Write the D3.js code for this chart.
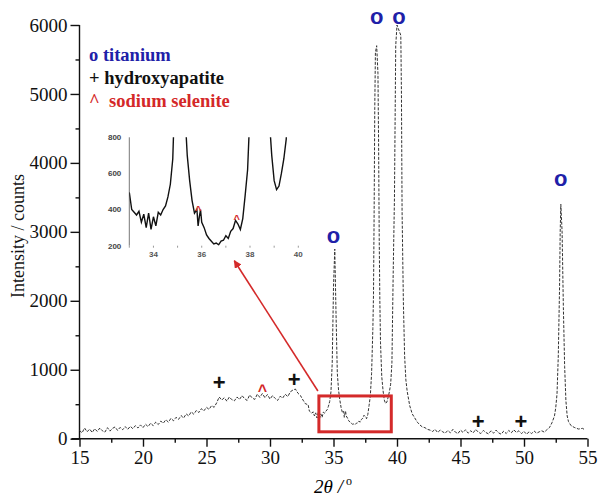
<!DOCTYPE html>
<html>
<head>
<meta charset="utf-8">
<script src="https://d3js.org/d3.v7.min.js"></script>
<style>
  body { margin: 0; background: #fff; }
  svg { display: block; }
</style>
</head>
<body>
<svg width="598" height="498"></svg>
<script>

// pattern: [2theta, counts]
var pattern = [
  [15.0,120],[15.2,85],[15.4,155],[15.6,100],[15.8,140],[16.0,90],[16.2,145],[16.4,105],[16.6,155],[16.8,115],
  [17.0,95],[17.2,160],[17.4,110],[17.6,150],[17.8,170],[18.0,120],[18.2,165],[18.4,130],[18.6,175],[18.8,135],
  [19.0,180],[19.2,145],[19.4,190],[19.6,155],[19.8,200],[20.0,160],[20.2,210],[20.4,175],[20.6,225],[20.8,190],
  [21.0,240],[21.2,205],[21.4,255],[21.6,225],[21.8,275],[22.0,240],[22.2,295],[22.4,260],[22.6,310],[22.8,280],
  [23.0,335],[23.2,300],[23.4,360],[23.6,330],[23.8,390],[24.0,355],[24.2,410],[24.4,380],[24.6,435],[24.8,405],
  [25.0,455],[25.2,425],[25.4,480],[25.6,455],[25.8,520],[26.0,605],[26.2,560],[26.4,595],[26.6,545],[26.8,605],
  [27.0,565],[27.2,550],[27.4,605],[27.6,570],[27.8,625],[28.0,580],[28.2,555],[28.4,635],[28.6,590],[28.8,570],
  [29.0,645],[29.2,600],[29.4,655],[29.6,595],[29.8,640],[30.0,575],[30.2,625],[30.4,585],[30.6,555],[30.8,615],
  [31.0,590],[31.2,645],[31.4,610],[31.6,680],[31.8,705],[32.0,720],[32.2,660],[32.4,625],[32.6,560],[32.8,505],
  [33.0,495],[33.1,400],[33.2,385],[33.3,370],[33.4,390],[33.5,330],[33.6,375],[33.7,300],[33.8,380],[33.9,290],
  [34.0,360],[34.1,310],[34.2,385],[34.3,370],[34.4,400],[34.5,420],[34.6,470],[34.7,540],[34.8,680],[34.9,1100],
  [35.0,2200],[35.1,2750],[35.2,1800],[35.3,950],[35.4,700],[35.5,560],[35.6,450],[35.7,380],[35.8,400],[35.85,310],
  [35.9,360],[35.95,400],[36.0,330],[36.1,300],[36.2,260],[36.3,240],[36.4,225],[36.5,210],[36.6,215],[36.7,205],
  [36.8,225],[36.9,230],[37.0,255],[37.1,240],[37.2,280],[37.3,295],[37.4,340],[37.5,320],[37.6,290],[37.7,350],
  [37.8,480],[37.9,620],[38.0,950],[38.1,1600],[38.15,2100],[38.2,3300],[38.25,4800],[38.3,5600],[38.4,5700],[38.5,5300],
  [38.55,4300],[38.6,2900],[38.65,2000],[38.7,1400],[38.8,900],[38.9,700],[39.0,560],[39.1,510],[39.2,530],[39.3,600],
  [39.4,680],[39.5,790],[39.6,1100],[39.7,2400],[39.8,3500],[39.9,5700],[40.0,6000],[40.1,5950],[40.2,5900],[40.3,5850],
  [40.35,5000],[40.4,3300],[40.5,2000],[40.6,1200],[40.7,850],[40.8,690],[41.0,480],[41.2,360],[41.4,300],[41.6,240],
  [41.8,200],[42.0,170],[42.2,160],[42.4,135],[42.6,125],[42.8,105],[43.0,135],[43.2,90],[43.4,125],[43.6,100],
  [43.8,80],[44.0,120],[44.2,85],[44.4,135],[44.6,95],[44.8,75],[45.0,125],[45.2,90],[45.4,130],[45.6,80],
  [45.8,115],[46.0,85],[46.2,135],[46.4,95],[46.6,75],[46.8,120],[47.0,90],[47.2,70],[47.4,115],[47.6,80],
  [47.8,125],[48.0,85],[48.2,65],[48.4,110],[48.6,75],[48.8,120],[49.0,85],[49.2,130],[49.4,90],[49.6,115],
  [49.8,75],[50.0,105],[50.2,65],[50.4,100],[50.6,75],[50.8,110],[51.0,80],[51.2,100],[51.4,115],[51.6,95],
  [51.8,130],[52.0,160],[52.2,230],[52.4,330],[52.5,450],[52.6,650],[52.7,1200],[52.8,2200],[52.85,3000],[52.9,3400],
  [53.0,3000],[53.1,1900],[53.2,1050],[53.3,550],[53.4,330],[53.5,250],[53.7,190],[54.0,160],[54.3,140],[54.6,150],
  [54.8,130]
];

var xTicks = [15, 20, 25, 30, 35, 40, 45, 50, 55],
	xMinor = [17.5, 22.5, 27.5, 32.5, 37.5, 42.5, 47.5, 52.5],
	yTicks = [0, 1000, 2000, 3000, 4000, 5000, 6000],
	yMinor = [500, 1500, 2500, 3500, 4500, 5500];

var insetXTicks = [34, 36, 38, 40],
	insetXMinor = [33, 35, 37, 39],
	insetYTicks = [200, 400, 600, 800];

// markers: [2theta, counts]
var titaniumMarks = [[35.0, 2930], [38.4, 6110], [40.15, 6110], [52.9, 3750]],
	hapMarks = [[26.0, 820], [31.9, 865], [46.4, 255], [49.75, 255]],
	seleniteMarks = [[29.4, 760]],
	seleniteInset = [[35.85, 410], [37.45, 360]];

var legendItems = [
	{ text: 'o titanium', color: '#2020a8' },
	{ text: '+ hydroxyapatite', color: '#111' },
	{ text: '^  sodium selenite', color: '#d42828' }
];

// zoom window drawn as the red box
var zoomX = [33.85, 39.55],
	zoomY = [100, 620];


var svg = d3.select('svg');

var x = d3.scaleLinear().domain([15, 55]).range([79.5, 587.5]);
var y = d3.scaleLinear().domain([0, 6000]).range([438.7, 25]);

var serif = '"Liberation Serif", "Times New Roman", serif',
	sans = '"Liberation Sans", Arial, sans-serif';


/*
	axes
*/
var xAxis = svg.append('g').attr('transform', 'translate(0,' + y(0) + ')')
	.call(d3.axisBottom(x).tickValues(xTicks).tickSize(8).tickPadding(4).tickFormat(d3.format('d')));
svg.append('g').attr('transform', 'translate(0,' + y(0) + ')')
	.call(d3.axisBottom(x).tickValues(xMinor).tickSize(4).tickFormat(''))
	.select('.domain').remove();

var yAxis = svg.append('g').attr('transform', 'translate(' + x(15) + ',0)')
	.call(d3.axisLeft(y).tickValues(yTicks).tickSize(9).tickPadding(3).tickFormat(d3.format('d')));
svg.append('g').attr('transform', 'translate(' + x(15) + ',0)')
	.call(d3.axisLeft(y).tickValues(yMinor).tickSize(4).tickFormat(''))
	.select('.domain').remove();

xAxis.select('.domain').attr('d', 'M' + (x(15) - 8) + ',0H' + x(55));
yAxis.select('.domain').attr('d', 'M0,' + y(0) + 'V' + y(6000));

svg.selectAll('.tick line, .domain').attr('stroke', '#111').attr('stroke-width', 1.4);
svg.selectAll('.tick text').style('font-family', serif).style('font-size', '19px').attr('fill', '#111');

svg.append('text').attr('x', 333).attr('y', 493)
	.attr('text-anchor', 'middle')
	.style('font-family', serif).style('font-size', '19px').style('font-style', 'italic')
	.html('2θ /<tspan dy="-8" font-size="12" font-style="normal"> o</tspan>');

svg.append('text').attr('transform', 'translate(24,236) rotate(-90)')
	.attr('text-anchor', 'middle')
	.style('font-family', serif).style('font-size', '18px').attr('fill', '#111')
	.text('Intensity / counts');


/*
	pattern
*/
var line = d3.line().x(function (d) { return x(d[0]); }).y(function (d) { return y(d[1]); });

svg.append('path').datum(pattern).attr('d', line)
	.attr('fill', 'none')
	.attr('stroke', '#333')
	.attr('stroke-width', 1)
	.attr('stroke-dasharray', '3,1.5');


/*
	markers
*/
svg.selectAll('.ti').data(titaniumMarks).enter().append('text')
	.attr('x', function (d) { return x(d[0]); })
	.attr('y', function (d) { return y(d[1]); })
	.attr('dy', '0.28em').attr('text-anchor', 'middle')
	.style('font-family', sans).style('font-weight', 'bold').style('font-size', '22px')
	.attr('fill', '#2020a8').text('o');

svg.selectAll('.hap').data(hapMarks).enter().append('text')
	.attr('x', function (d) { return x(d[0]); })
	.attr('y', function (d) { return y(d[1]); })
	.attr('dy', '0.36em').attr('text-anchor', 'middle')
	.style('font-family', sans).style('font-weight', 'bold').style('font-size', '22px')
	.attr('fill', '#111').text('+');

svg.selectAll('.sel').data(seleniteMarks).enter().append('text')
	.attr('x', function (d) { return x(d[0]); })
	.attr('y', function (d) { return y(d[1]); })
	.attr('dy', '0.6em').attr('text-anchor', 'middle')
	.style('font-family', sans).style('font-weight', 'bold').style('font-size', '16px')
	.attr('fill', '#d42828').text('^');


/*
	legend
*/
svg.selectAll('.legend').data(legendItems).enter().append('text')
	.attr('x', 89)
	.attr('y', function (d, i) { return 61 + i * 23; })
	.style('font-family', serif).style('font-weight', 'bold').style('font-size', '18.5px')
	.attr('fill', function (d) { return d.color; })
	.style('white-space', 'pre')
	.text(function (d) { return d.text; });


/*
	red box + arrow
*/
var red = '#d42a2a';

svg.append('rect')
	.attr('x', x(zoomX[0])).attr('y', y(zoomY[1]))
	.attr('width', x(zoomX[1]) - x(zoomX[0]))
	.attr('height', y(zoomY[0]) - y(zoomY[1]))
	.attr('fill', 'none').attr('stroke', red).attr('stroke-width', 3);


/*
	inset
*/
var ix = d3.scaleLinear().domain([33, 40]).range([129.3, 298.3]);
var iy = d3.scaleLinear().domain([200, 800]).range([245.7, 137.3]);

var defs = svg.append('defs');
defs.append('clipPath').attr('id', 'insetClip').append('rect')
	.attr('x', ix(33)).attr('y', iy(800))
	.attr('width', ix(40) - ix(33)).attr('height', iy(200) - iy(800));

defs.append('marker').attr('id', 'head')
	.attr('viewBox', '0 0 10 10').attr('refX', 9).attr('refY', 5)
	.attr('markerWidth', 5).attr('markerHeight', 5).attr('orient', 'auto')
	.append('path').attr('d', 'M0,0L10,5L0,10z').attr('fill', red);

svg.append('line')
	.attr('x1', x(zoomX[0]) - 1).attr('y1', y(zoomY[1]) - 5)
	.attr('x2', ix(37.35)).attr('y2', iy(200) + 15)
	.attr('stroke', red).attr('stroke-width', 1.6)
	.attr('marker-end', 'url(#head)');

var inset = svg.append('g');

inset.append('line')
	.attr('x1', ix(33)).attr('x2', ix(33))
	.attr('y1', iy(800)).attr('y2', iy(200))
	.attr('stroke', '#777').attr('stroke-width', 1);

inset.selectAll('.iyl').data(insetYTicks).enter().append('text')
	.attr('x', ix(33) - 8)
	.attr('y', function (d) { return iy(d); })
	.attr('dy', '0.35em').attr('text-anchor', 'end')
	.style('font-family', sans).style('font-size', '8px').style('font-weight', 'bold')
	.attr('fill', '#444').text(function (d) { return d; });

inset.selectAll('.ixl').data(insetXTicks).enter().append('text')
	.attr('x', function (d) { return ix(d); })
	.attr('y', iy(200) + 11)
	.attr('text-anchor', 'middle')
	.style('font-family', sans).style('font-size', '8px').style('font-weight', 'bold')
	.attr('fill', '#555').text(function (d) { return d; });

inset.selectAll('.ixm').data(insetXMinor.concat(insetXTicks)).enter().append('line')
	.attr('x1', function (d) { return ix(d); })
	.attr('x2', function (d) { return ix(d); })
	.attr('y1', iy(200)).attr('y2', iy(200) + 2)
	.attr('stroke', '#999').attr('stroke-width', 1);

var insetLine = d3.line().x(function (d) { return ix(d[0]); }).y(function (d) { return iy(d[1]); });

inset.append('path')
	.datum(pattern.filter(function (d) { return d[0] >= 33 && d[0] <= 39.7; }))
	.attr('d', insetLine)
	.attr('clip-path', 'url(#insetClip)')
	.attr('fill', 'none').attr('stroke', '#111').attr('stroke-width', 1.4);

inset.selectAll('.isel').data(seleniteInset).enter().append('text')
	.attr('x', function (d) { return ix(d[0]); })
	.attr('y', function (d) { return iy(d[1]); })
	.attr('dy', '0.6em').attr('text-anchor', 'middle')
	.style('font-family', sans).style('font-weight', 'bold').style('font-size', '11px')
	.attr('fill', red).text('^');

</script>
</body>
</html>
